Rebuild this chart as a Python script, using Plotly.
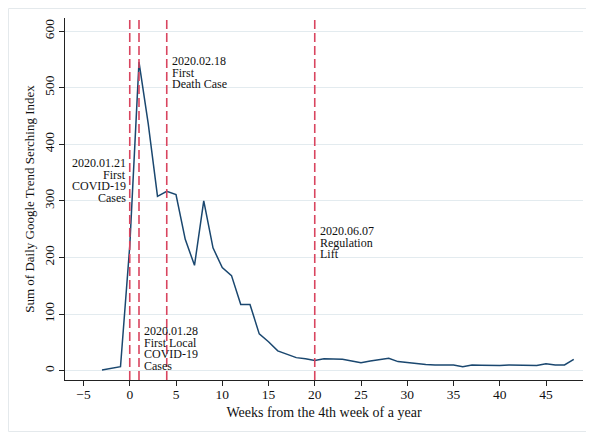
import plotly.graph_objects as go

# ---- data ----
weeks = [-3, -1, 0, 1, 2, 3, 4, 5, 6, 7, 8, 9, 10, 11, 12, 13, 14, 15, 16, 17,
         18, 19, 20, 21, 22, 23, 24, 25, 26, 27, 28, 29, 30, 31, 32, 33, 34, 35,
         36, 37, 38, 39, 40, 41, 42, 43, 44, 45, 46, 47, 48]
search_index = [1, 7, 220, 545, 436, 308, 317, 311, 232, 186, 300, 217, 182, 168,
                117, 117, 65, 51, 35, 29, 23, 21, 18, 21, 21, 20, 17, 14, 17, 20,
                22, 16, 14, 12, 11, 10, 10, 10, 7, 10, 9.5, 9, 9, 10, 9.5, 9, 9,
                12, 10, 10, 20]

event_weeks = [0, 1, 4, 20]
event_labels = [
    ["2020.01.21", "First", "COVID-19", "Cases"],
    ["2020.01.28", "First Local", "COVID-19", "Cases"],
    ["2020.02.18", "First", "Death Case"],
    ["2020.06.07", "Regulation", "Lift"],
]
# y value of the first text line of each label, and which side of the line
event_label_y = [367, 70, 547, 247]
event_label_side = ["left", "right", "right", "right"]

x_ticks = list(range(-5, 50, 5))
y_ticks = list(range(0, 700, 100))

FONT = "Liberation Serif, Times New Roman, serif"
NAVY = "#1a476f"
RED = "#d9455f"
GRID = "#e3ebef"
INK = "#111111"

fig = go.Figure()
fig.add_trace(go.Scatter(x=weeks, y=search_index, mode="lines",
                         line=dict(color=NAVY, width=1.5), showlegend=False,
                         hoverinfo="skip"))

shapes = []
for wk in event_weeks:
    shapes.append(dict(type="line", xref="x", yref="paper", x0=wk, x1=wk, y0=0, y1=1,
                       line=dict(color=RED, width=1.6, dash="9px,4px"), layer="above"))
# outer graph-region border (around the whole figure)
shapes.append(dict(type="rect", xref="paper", yref="paper",
                   x0=-0.109, x1=1.0203, y0=-0.1423, y1=1.0262,
                   line=dict(color="#e4e9ec", width=1), fillcolor="rgba(0,0,0,0)",
                   layer="below"))

annotations = []
LINE_PX = 11.7
for wk, lines, y0, side in zip(event_weeks, event_labels, event_label_y, event_label_side):
    for i, txt in enumerate(lines):
        annotations.append(dict(
            x=wk, y=y0, xref="x", yref="y", text=txt, showarrow=False,
            xanchor="right" if side == "left" else "left", yanchor="middle",
            xshift=-3 if side == "left" else 4, yshift=-LINE_PX * i,
            borderpad=0,
            font=dict(family=FONT, size=12, color=INK)))

fig.update_layout(
    width=586, height=424,
    margin=dict(l=57, r=11, t=10, b=52, autoexpand=False),
    paper_bgcolor="white", plot_bgcolor="white",
    font=dict(family=FONT, size=13.5, color=INK),
    shapes=shapes, annotations=annotations,
    xaxis=dict(range=[-7, 49], tickvals=x_ticks, ticks="outside", ticklen=5,
               tickcolor="#222222", showline=True, linecolor="#222222", linewidth=1,
               showgrid=False, zeroline=False, automargin=False,
               ticklabelstandoff=-3,
               tickfont=dict(family=FONT, size=13.5, color=INK),
               title=dict(text="Weeks from the 4th week of a year",
                          font=dict(family=FONT, size=14, color=INK), standoff=5)),
    yaxis=dict(range=[-16.5, 623], tickvals=y_ticks, ticks="outside", ticklen=5,
               tickcolor="#222222", showline=True, linecolor="#222222", linewidth=1,
               showgrid=True, gridcolor=GRID, gridwidth=1, zeroline=False,
               tickangle=-90, automargin=False,
               tickfont=dict(family=FONT, size=13.5, color=INK),
               title=dict(text="Sum of Daily Google Trend Serching Index",
                          font=dict(family=FONT, size=13, color=INK), standoff=4)),
)

fig.write_html("out.html")
